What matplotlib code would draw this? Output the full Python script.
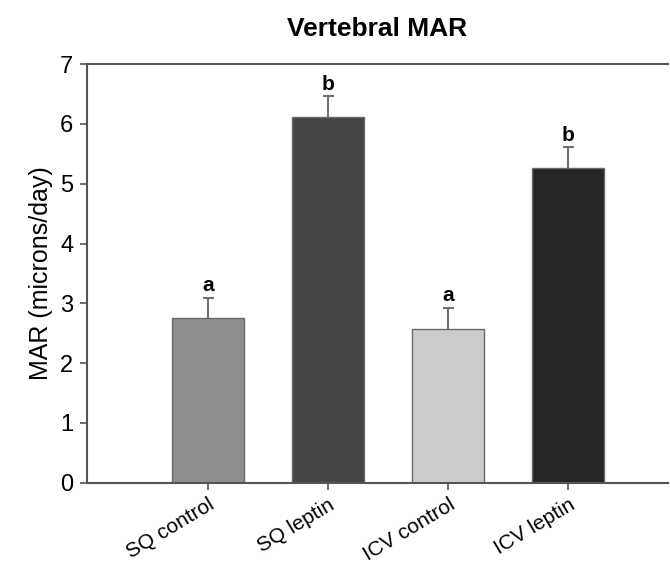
import matplotlib.pyplot as plt
import numpy as np

plt.rcParams['font.family'] = ['Liberation Sans', 'DejaVu Sans']

groups = ['SQ control', 'SQ leptin', 'ICV control', 'ICV leptin']
mar = [2.75, 6.11, 2.57, 5.26]
sem = [0.34, 0.35, 0.35, 0.35]
letters = ['a', 'b', 'a', 'b']
colors = ['#8e8e8e', '#444444', '#cbcbcb', '#262626']

fig = plt.figure(figsize=(6.7, 5.68), dpi=100)
ax = fig.add_axes([0.130, 0.150, 0.867, 0.737])

x = np.arange(len(groups))
tops = np.array(mar) + np.array(sem)
ax.bar(x, mar, width=0.6, color=colors, edgecolor='#6a6a6a', linewidth=1.0, zorder=2)
# upper error bars only
ax.vlines(x, mar, tops, color='#707070', linewidth=1.5, zorder=1)
ax.hlines(tops, x - 0.045, x + 0.045, color='#707070', linewidth=1.5, zorder=1)

for xi, t, lab in zip(x, tops, letters):
    ax.annotate(lab, (xi, t), xytext=(0, 2), textcoords='offset points',
                ha='center', va='bottom', fontsize=15, fontweight='bold')

ax.set_xlim(-1.01, 3.83)
ax.set_ylim(0, 7)
ax.set_yticks(range(0, 8))
ax.set_xticks(x)
ax.set_xticklabels(groups, rotation=31, ha='right', rotation_mode='anchor', fontsize=15)
ax.tick_params(axis='y', labelsize=17, direction='out', length=5, width=1.2, color='#555555', pad=5)
ax.tick_params(axis='x', direction='out', length=5, width=1.2, color='#555555', pad=4)
ax.set_ylabel('MAR (microns/day)', fontsize=18, labelpad=5)
ax.set_title('Vertebral MAR', fontsize=19, fontweight='bold', pad=20)

for side in ['left', 'bottom', 'top']:
    ax.spines[side].set_color('#555555')
    ax.spines[side].set_linewidth(1.5)
ax.spines['right'].set_visible(False)

fig.savefig('out.png', dpi=100)
